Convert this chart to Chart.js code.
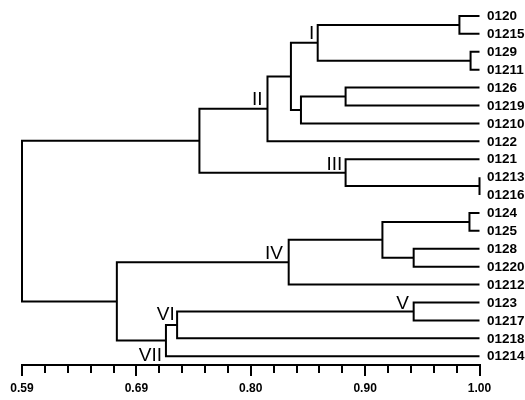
<!DOCTYPE html>
<html><head><meta charset="utf-8">
<script src="https://cdn.jsdelivr.net/npm/chart.js@4.4.1/dist/chart.umd.min.js"></script>
<style>html,body{margin:0;padding:0;background:#fff;}#wrap{width:525px;height:400px;}</style>
</head><body><div id="wrap"><canvas id="c" width="525" height="400"></canvas></div>
<script>
// Leaves in display order (top to bottom)
const leaves = ['0120','01215','0129','01211','0126','01219','01210','0122','0121','01213','01216',
                '0124','0125','0128','01220','01212','0123','01217','01218','01214'];
// Merges: node 'n'+k joins mergeLeft[k] and mergeRight[k] at similarity mergeHeight[k]
const mergeLeft   = ['0120','0129','n0','0126','n3','n2','n5','01213','0121','n6','0124','0128','n10','n12','0123','n14','n15','n13','n9'];
const mergeRight  = ['01215','01211','n1','01219','01210','n4','0122','01216','n7','n8','0125','01220','n11','01212','01217','01218','01214','n16','n17'];
const mergeHeight = [0.982,0.992,0.855,0.880,0.840,0.831,0.810,1.000,0.880,0.749,0.991,0.941,0.913,0.829,0.941,0.729,0.719,0.675,0.590];
const leafLevel = 1.00;
// Cluster labels
const clusterNodes = ['n2','n6','n8','n13','n14','n15','n16'];
const clusterNames = ['I','II','III','IV','V','VI','VII'];
// Axis ticks
const majorTickValues = [0.59, 0.6925, 0.795, 0.8975, 1.00];
const majorTickLabels = ['0.59','0.69','0.80','0.90','1.00'];
const minorPerMajor = 5;

// style-only offsets for cluster labels (px relative to node)
const labelDx = [-3.3,-4.9,-3.3,-5.7,-4.7,-2.3,-4];
const labelDy = [-3.8,-3.7,-2.9,-2.8,-2.1,-5.3,20.2];

const pos = {};
leaves.forEach((n,i)=>{pos[n]={x:leafLevel,y:i};});
const datasets = [];
mergeHeight.forEach((h,k)=>{
  const a = pos[mergeLeft[k]], b = pos[mergeRight[k]];
  pos['n'+k] = {x:h, y:(a.y+b.y)/2};
  datasets.push({
    data:[{x:a.x,y:a.y},{x:h,y:a.y},{x:h,y:b.y},{x:b.x,y:b.y}],
    showLine:true, borderColor:'#000', borderWidth:2, pointRadius:0, pointHoverRadius:0,
    fill:false, tension:0, clip:false, borderJoinStyle:'miter', borderCapStyle:'butt'
  });
});

const labelPlugin = {
  id:'labels',
  afterDraw(chart){
    const ctx = chart.ctx, xs = chart.scales.x, ys = chart.scales.y;
    ctx.save();
    // major tick extension
    ctx.strokeStyle='#000'; ctx.lineWidth=2;
    const b = chart.chartArea.bottom;
    majorTickValues.forEach(v=>{
      const px = Math.round(xs.getPixelForValue(v));
      ctx.beginPath(); ctx.moveTo(px,b); ctx.lineTo(px,b+11); ctx.stroke();
    });
    // leaf labels
    ctx.fillStyle='#000';
    ctx.font='bold 13.5px "Liberation Sans", Arial, sans-serif';
    ctx.textAlign='left'; ctx.textBaseline='middle';
    leaves.forEach((n,i)=>{
      ctx.fillText(n, xs.getPixelForValue(leafLevel)+7.5, ys.getPixelForValue(i)+0.5);
    });
    // cluster labels
    ctx.font='19px "Liberation Sans", Arial, sans-serif';
    ctx.textAlign='right'; ctx.textBaseline='alphabetic';
    clusterNodes.forEach((id,i)=>{
      const p = pos[id];
      ctx.fillText(clusterNames[i], xs.getPixelForValue(p.x)+labelDx[i], ys.getPixelForValue(p.y)+labelDy[i]);
    });
    ctx.restore();
  }
};

new Chart(document.getElementById('c'), {
  type:'scatter',
  data:{datasets},
  options:{
    responsive:false, animation:false,
    layout:{padding:{top:7,left:22,right:45.5,bottom:-5}},
    plugins:{legend:{display:false}, tooltip:{enabled:false}},
    scales:{
      x:{
        type:'linear', position:'bottom', min:0.59, max:1.00,
        afterBuildTicks:(s)=>{
          const t=[];
          for(let i=0;i<majorTickValues.length-1;i++){
            for(let j=0;j<minorPerMajor;j++){
              t.push(majorTickValues[i]+(majorTickValues[i+1]-majorTickValues[i])*j/minorPerMajor);
            }
          }
          t.push(majorTickValues[majorTickValues.length-1]);
          s.ticks = t.map(v=>({value:v}));
        },
        ticks:{autoSkip:false, maxRotation:0, minRotation:0, padding:10, color:'#000',
          font:{family:'"Liberation Sans", Arial, sans-serif', size:12, weight:'bold', lineHeight:1},
          callback:(v,i)=> (i%minorPerMajor===0 ? majorTickLabels[i/minorPerMajor] : '')},
        grid:{display:true, drawOnChartArea:false, drawTicks:true, tickLength:8, color:'#000', lineWidth:2},
        border:{display:true, color:'#000', width:2}
      },
      y:{type:'linear', display:false, reverse:true, min:-0.5, max:19.49}
    }
  },
  plugins:[labelPlugin]
});
</script>
</body></html>
